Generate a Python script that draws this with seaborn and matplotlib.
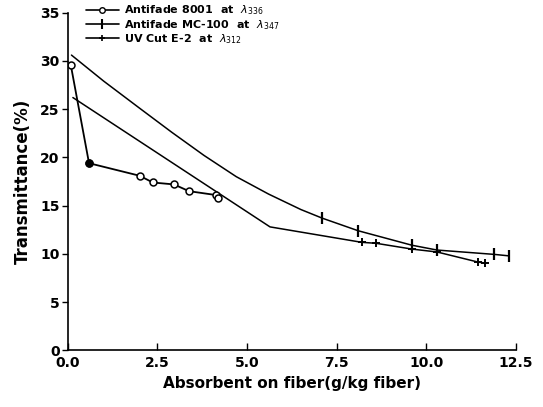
import numpy as np
import pandas as pd
import seaborn as sns
import matplotlib.pyplot as plt
from matplotlib.lines import Line2D

# ---------------------------------------------------------------------------- #
#                                    Data                                      #
# ---------------------------------------------------------------------------- #
# Antifade 8001 (open circles)
x_8001 = [0.08, 0.59, 2.0, 2.37, 2.96, 3.38, 4.13, 4.19]
y_8001 = [29.6, 19.4, 18.1, 17.4, 17.2, 16.5, 16.1, 15.8]

# Antifade MC-100 (upper smooth curve, tick markers at the tail)
x_mc100 = [0.1, 1.0, 2.0, 2.9, 3.8, 4.7, 5.6, 6.5, 7.1, 8.1, 9.6, 10.3, 11.9, 12.3]
y_mc100 = [30.6, 27.9, 25.1, 22.6, 20.2, 18.0, 16.2, 14.6, 13.7, 12.4, 10.9, 10.4, 9.95, 9.8]

# UV Cut E-2 (straight line with a kink)
x_uv = [0.14, 5.64, 8.2, 8.6, 9.6, 10.3, 11.45, 11.65]
y_uv = [26.2, 12.8, 11.2, 11.1, 10.5, 10.2, 9.15, 9.05]

labels = [r"Antifade 8001  at  $\lambda_{336}$",
          r"Antifade MC-100  at  $\lambda_{347}$",
          r"UV Cut E-2  at  $\lambda_{312}$"]

x_ticks = [0.0, 2.5, 5.0, 7.5, 10.0, 12.5]
y_ticks = [0, 5, 10, 15, 20, 25, 30, 35]

# ---------------------------------------------------------------------------- #
#                                    Plot                                      #
# ---------------------------------------------------------------------------- #
sns.set_style("ticks")
plt.rcParams['font.family'] = ['DejaVu Sans']
plt.rcParams.update({'text.color': 'black', 'axes.labelcolor': 'black',
                     'xtick.color': 'black', 'ytick.color': 'black'})

fig = plt.figure(figsize=(5.43, 4.07), dpi=100)
ax = fig.add_axes([0.125, 0.139, 0.825, 0.83])

df1 = pd.DataFrame({'x': x_8001, 'y': y_8001})
df2 = pd.DataFrame({'x': x_mc100, 'y': y_mc100})
df3 = pd.DataFrame({'x': x_uv, 'y': y_uv})

sns.lineplot(data=df2, x='x', y='y', ax=ax, color='black', lw=1.1,
             estimator=None, sort=False)
ax.plot(df2['x'][8:], df2['y'][8:], ls='none', marker='|', ms=9, mew=1.6, color='black')

sns.lineplot(data=df3, x='x', y='y', ax=ax, color='black', lw=1.1,
             estimator=None, sort=False)
ax.plot(df3['x'][2:], df3['y'][2:], ls='none', marker='+', ms=6, mew=1.4, color='black')

sns.lineplot(data=df1, x='x', y='y', ax=ax, color='black', lw=1.3,
             estimator=None, sort=False, marker='o', markersize=5,
             markerfacecolor='white', markeredgecolor='black', markeredgewidth=1.1)
ax.plot(df1['x'][1], df1['y'][1], marker='o', ms=5, color='black')

ax.set_xlim(0, 12.5)
ax.set_ylim(0, 35)
ax.set_xticks(x_ticks)
ax.set_xticklabels([f"{v:.1f}" for v in x_ticks])
ax.set_yticks(y_ticks)
ax.tick_params(axis='x', direction='in', length=5, width=1.0, labelsize=10, pad=4)
ax.tick_params(axis='y', direction='out', length=4, width=1.0, labelsize=10, pad=2)
for lab in ax.get_xticklabels() + ax.get_yticklabels():
    lab.set_fontweight('bold')

sns.despine(ax=ax)
for s in ['left', 'bottom']:
    ax.spines[s].set_linewidth(1.2)
    ax.spines[s].set_color('black')

ax.set_xlabel("Absorbent on fiber(g/kg fiber)", fontsize=11, fontweight='bold', labelpad=4)
ax.set_ylabel("Transmittance(%)", fontsize=12, fontweight='bold', labelpad=6)

handles = [
    Line2D([], [], color='black', lw=1.2, marker='o', ms=4, mfc='white'),
    Line2D([], [], color='black', lw=1.2, marker='|', ms=7, mew=1.5),
    Line2D([], [], color='black', lw=1.2, marker='+', ms=5, mew=1.2),
]
leg = ax.legend(handles, labels, loc='upper left', bbox_to_anchor=(0.03, 1.04),
                frameon=False, fontsize=8, handlelength=3.0, handletextpad=0.4,
                labelspacing=0.05, borderaxespad=0)
for t in leg.get_texts():
    t.set_fontweight('bold')

fig.savefig('out.png', dpi=100)
